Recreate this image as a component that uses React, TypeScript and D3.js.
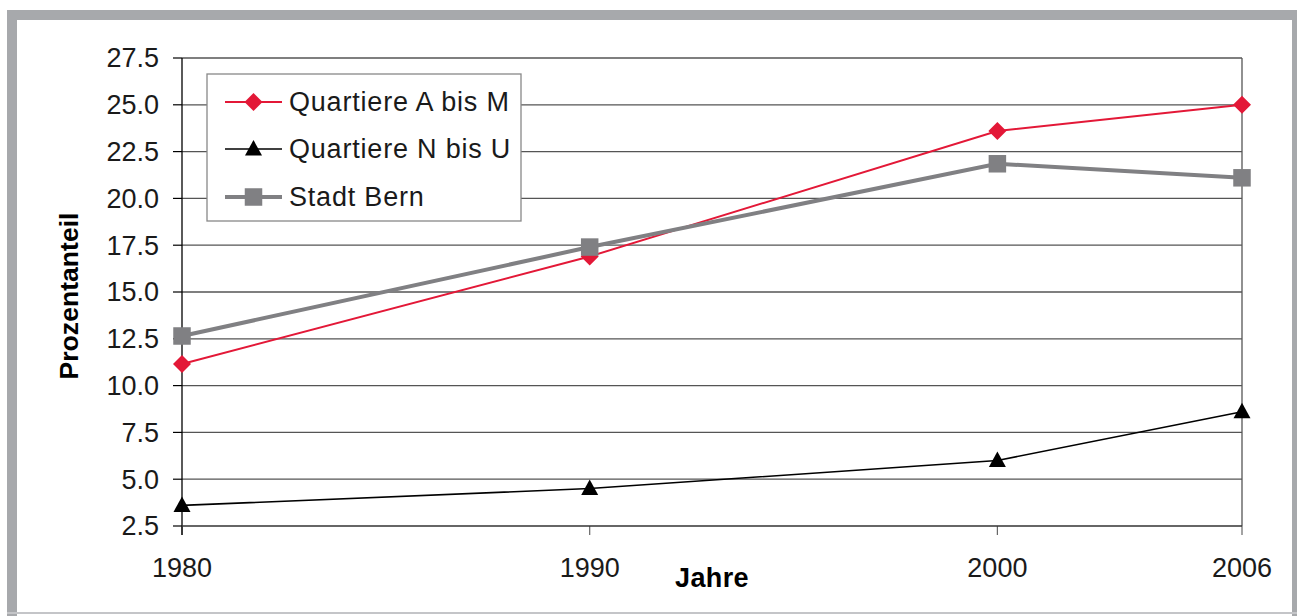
import React from "react";
import * as d3 from "d3";

const years = [1980, 1990, 2000, 2006];
const quartiereAM = [11.15, 16.9, 23.6, 25.0];
const quartiereNU = [3.6, 4.5, 6.0, 8.6];
const stadtBern = [12.65, 17.4, 21.85, 21.1];
const yTicks = [2.5, 5, 7.5, 10, 12.5, 15, 17.5, 20, 22.5, 25, 27.5];
const seriesNames = ["Quartiere A bis M", "Quartiere N bis U", "Stadt Bern"];

const W = 1297;
const H = 616;
const FONT = "'Liberation Sans', Arial, Helvetica, sans-serif";

export default function App() {
  const x = d3.scaleLinear().domain([1980, 2006]).range([182, 1242]);
  const y = d3.scaleLinear().domain([2.5, 27.5]).range([526, 58]);
  const fmt = d3.format(".1f");

  const line = d3
    .line<number>()
    .x((_, i) => x(years[i]))
    .y((d) => y(d));

  const series = [
    { name: seriesNames[0], values: quartiereAM, color: "#e31837", width: 2, marker: "diamond" },
    { name: seriesNames[1], values: quartiereNU, color: "#000000", width: 1.6, marker: "triangle" },
    { name: seriesNames[2], values: stadtBern, color: "#808083", width: 4, marker: "square" },
  ];

  const marker = (type: string, cx: number, cy: number, color: string, key: string) => {
    if (type === "diamond") {
      const r = 9;
      return (
        <path
          key={key}
          d={`M${cx},${cy - r}L${cx + r},${cy}L${cx},${cy + r}L${cx - r},${cy}Z`}
          fill={color}
        />
      );
    }
    if (type === "triangle") {
      return (
        <path
          key={key}
          d={`M${cx},${cy - 9}L${cx + 8.5},${cy + 6.5}L${cx - 8.5},${cy + 6.5}Z`}
          fill={color}
        />
      );
    }
    const s = 17.5;
    return <rect key={key} x={cx - s / 2} y={cy - s / 2} width={s} height={s} fill={color} />;
  };

  const [x0, x1] = x.range();
  const [yb, yt] = y.range();

  const legendX = 207;
  const legendY = 74;
  const legendRows = [102, 149, 197];

  return (
    <svg
      width={W}
      height={H}
      style={{ position: "absolute", left: 0, top: 0, background: "#fff" }}
      fontFamily={FONT}
    >
      {/* frame */}
      <rect x={0} y={0} width={W} height={H} fill="#fff" />
      <rect x={7} y={10} width={W - 7} height={10} fill="#a7a9ac" />
      <rect x={7} y={10} width={10} height={H - 10} fill="#a7a9ac" />
      <rect x={1292} y={10} width={5} height={H - 10} fill="#a7a9ac" />
      <rect x={7} y={612} width={W - 7} height={2} fill="#c4c5c8" />

      {/* gridlines */}
      {yTicks.slice(1).map((t) => (
        <line key={"g" + t} x1={x0} x2={x1} y1={y(t)} y2={y(t)} stroke="#555" strokeWidth={1.3} />
      ))}
      {/* y ticks */}
      {yTicks.map((t) => (
        <g key={"yt" + t}>
          <line x1={x0 - 9} x2={x0} y1={y(t)} y2={y(t)} stroke="#000" strokeWidth={1.2} />
          <text
            x={159}
            y={y(t)}
            dy="0.35em"
            textAnchor="end"
            fontSize={27}
            fill="#1a1a1a"
          >
            {fmt(t)}
          </text>
        </g>
      ))}
      {/* x ticks */}
      {years.map((yr) => (
        <g key={"xt" + yr}>
          <line x1={x(yr)} x2={x(yr)} y1={yb} y2={yb + 9} stroke="#666" strokeWidth={1.2} />
          <text x={x(yr)} y={577} textAnchor="middle" fontSize={27} fill="#1a1a1a">
            {yr}
          </text>
        </g>
      ))}
      {/* axes */}
      <line x1={x0} x2={x0} y1={yt} y2={yb + 9} stroke="#000" strokeWidth={1.3} />
      <line x1={x1} x2={x1} y1={yt} y2={yb} stroke="#555" strokeWidth={1.3} />
      <line x1={x0} x2={x1} y1={yb} y2={yb} stroke="#333" strokeWidth={1.5} />

      {/* axis titles */}
      <text
        transform={`translate(78,296) rotate(-90)`}
        textAnchor="middle"
        fontWeight="bold"
        fontSize={26.6}
        fill="#000"
      >
        Prozentanteil
      </text>
      <text
        x={712}
        y={587}
        textAnchor="middle"
        fontWeight="bold"
        fontSize={27}
        letterSpacing={0.4}
        fill="#000"
      >
        Jahre
      </text>

      {/* series */}
      {series.map((s) => (
        <g key={s.name}>
          <path d={line(s.values) || ""} fill="none" stroke={s.color} strokeWidth={s.width} />
          {s.values.map((v, i) => marker(s.marker, x(years[i]), y(v), s.color, s.name + i))}
        </g>
      ))}

      {/* legend */}
      <rect
        x={legendX}
        y={legendY}
        width={314}
        height={147}
        fill="#fff"
        stroke="#888"
        strokeWidth={1.3}
      />
      {series.map((s, i) => (
        <g key={"lg" + s.name}>
          <line
            x1={225}
            x2={282}
            y1={legendRows[i]}
            y2={legendRows[i]}
            stroke={s.color}
            strokeWidth={s.width}
          />
          {marker(s.marker, 253.5, legendRows[i], s.color, "lm" + i)}
          <text
            x={289}
            y={legendRows[i]}
            dy="0.35em"
            fontSize={27}
            letterSpacing={0.8}
            fill="#1a1a1a"
          >
            {s.name}
          </text>
        </g>
      ))}
    </svg>
  );
}
